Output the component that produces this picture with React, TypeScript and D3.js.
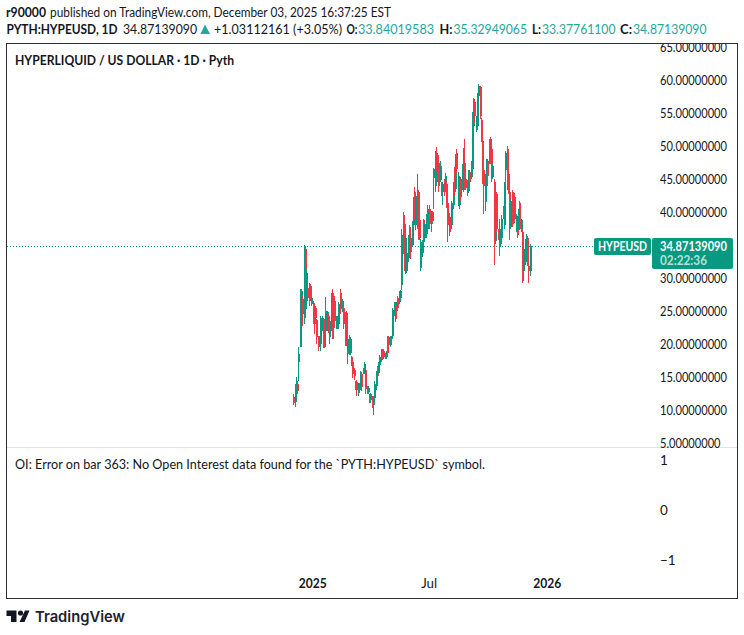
import { useEffect, useRef } from 'react';
import * as d3 from 'd3';

const WIDTH = 744;
const HEIGHT = 635;
const FONT = 'Lato, "Noto Sans", sans-serif';
const UP = '#089981';
const DOWN = '#f23645';
const INK = '#131722';

const firstDay = '2024-11-30';
const lastDay = '2025-12-03';

// one bar every two days or so
const opens = [12.0, 11.2, 12.8, 14.0, 17.2, 19.6, 23.5, 26.8, 24.0, 34.4, 27, 28.5, 29.0, 28.8, 26, 26.2, 24.8, 25.5, 23.6, 21, 19.8, 20, 22.5, 23.5, 23.4, 22, 22.2, 24.2, 21, 22.5, 27.8, 26.2, 26.5, 22.5, 22.8, 23, 27.8, 26.6, 25, 25.5, 24.5, 24.7, 18.5, 21, 18.6, 18, 17.2, 16, 13.4, 14.3, 12.6, 13, 14.2, 15.4, 15.5, 15.8, 16, 13.4, 12.8, 12.2, 11.5, 11.9, 10.8, 11.8, 13.6, 16.4, 15.6, 16.8, 17.6, 19, 18.9, 18.5, 18, 21, 21, 19.8, 20.8, 21.2, 24.6, 26, 25.9, 27, 26.3, 27, 29, 39.5, 38.2, 31, 31, 33, 37.8, 36, 35, 38, 43, 38, 39, 43, 38.8, 31.5, 33.8, 38.8, 36, 37, 40.5, 38.5, 40.5, 38.2, 40, 45.2, 44, 49, 47, 47.4, 44.8, 44.3, 43, 44.7, 43.5, 44.3, 41.3, 37, 39, 38, 41, 46.5, 43.5, 49, 41.5, 41, 45, 44, 44, 47.5, 45, 44.5, 43.2, 46, 45.3, 46.5, 53, 56.7, 52.5, 53, 57.6, 58.9, 54, 50.8, 46.3, 41.5, 44, 47.8, 47.6, 51, 49.5, 45.3, 44.5, 35.6, 42.8, 37.2, 37.4, 35.2, 36, 40.7, 38, 46.3, 49.5, 45.8, 43, 37.8, 43, 42.9, 42.2, 37.2, 38.3, 37.5, 41.3, 37.3, 37, 31, 32.5, 34, 36, 31.8, 31];
const highs = [12.4, 13.9, 15.0, 14.4, 19.6, 28.3, 28.3, 27.3, 35.0, 34.9, 31.4, 28.8, 29.3, 29.1, 27.1, 26.5, 25.3, 25.8, 23.8, 21.2, 21.2, 24.3, 24.3, 23.8, 23.8, 27.1, 25, 24.5, 23.8, 27.8, 28.3, 26.8, 27.3, 24.3, 24.3, 26.3, 28.3, 26.8, 26.8, 25.8, 24.8, 25, 21, 21.4, 20.9, 18.2, 17.4, 16.4, 14.4, 14.6, 14.1, 14.1, 15.9, 15.6, 16.4, 17.2, 16.4, 13.6, 13.6, 12.4, 12.6, 12.1, 12.1, 14.4, 15.9, 16.7, 17.2, 18.4, 19.2, 19.2, 19.2, 18.7, 18.9, 21.2, 21.2, 21.2, 21.2, 25.5, 26.3, 26.3, 26.3, 27.3, 28.1, 28.2, 37.4, 40, 38.7, 36.4, 34.1, 36.5, 38.1, 36.2, 38.7, 42.2, 43.8, 42.7, 45.7, 43.4, 39, 35.9, 35.7, 39, 38.4, 39.7, 41.1, 40.2, 41, 40.2, 40.2, 46.7, 49.2, 49.8, 47.3, 48.7, 47.7, 44.5, 44.5, 45, 45.9, 44.5, 41.6, 39.9, 39.2, 41.7, 44.6, 46.8, 48.8, 49.5, 46, 43.3, 45.3, 47.3, 49.7, 51, 45.3, 44.8, 46.4, 46.3, 47.8, 55.2, 57.2, 57.1, 54.6, 58, 59.4, 59.1, 54.3, 51.1, 46.6, 45.8, 48.1, 48.1, 51.1, 51.4, 49.8, 47.3, 45, 40.9, 43.1, 37.4, 39, 37.2, 39.5, 40.9, 44.6, 49.2, 50, 46.1, 43.4, 42, 43.3, 43.1, 42.5, 39.7, 38.5, 40.5, 41.6, 39, 37.4, 34.7, 35.9, 36.7, 36.4, 32, 35.2];
const lows = [10.75, 10.5, 12.1, 12.4, 14.4, 19.5, 22.8, 22.8, 23.0, 28.6, 25.3, 26.5, 25.8, 26.5, 25.8, 23, 21.5, 23.8, 20, 19, 19.5, 18.9, 22, 19.4, 19.4, 19.5, 22, 21.7, 20, 22, 20.7, 20.7, 22.5, 22.2, 22.2, 22.2, 24.5, 25.3, 24.8, 22.2, 19.7, 19.7, 17, 18.4, 18.3, 16.7, 14.9, 14.6, 13.1, 12.1, 12.1, 12.6, 13.9, 12.9, 15.4, 15.4, 12.4, 12.4, 12.4, 11.1, 11.1, 10.3, 9.2, 11.3, 13, 14.9, 15.4, 16.4, 17.2, 17.7, 17.7, 17.7, 17.7, 18.2, 19.5, 19.6, 20.7, 21, 24.3, 23.3, 25.8, 25, 26, 26.8, 28.2, 33.6, 31.1, 30.6, 30.8, 32.4, 34.4, 32.9, 34.7, 37.4, 38.9, 37.3, 37.4, 35.7, 35.7, 31, 33.2, 35.5, 35.4, 36, 36.7, 37.4, 37.4, 36.9, 38.5, 40.5, 43, 46, 44.5, 43.1, 44.5, 42.4, 41.1, 42.4, 43, 40.6, 35.5, 36.4, 36.9, 37.5, 40.5, 42.5, 43.1, 45.8, 40.9, 40.4, 41.7, 43.3, 43.1, 43.3, 43.3, 42.5, 42.9, 44.3, 45, 45.8, 52.4, 53.4, 52.1, 52.4, 57.4, 54.1, 50.6, 44.3, 39.7, 40.2, 43.5, 44.3, 47.3, 47.3, 44.6, 45, 31.9, 35.2, 36.9, 35.7, 33.4, 34.7, 35.7, 39, 37.4, 43, 43.3, 42.7, 35.7, 37.4, 37.7, 39.7, 38.4, 36.9, 36, 37.2, 37.2, 37, 29.3, 29.6, 31.9, 33.6, 31.8, 29.2, 30.3];
const closes = [11.0, 13.5, 14.0, 12.9, 18.5, 23.2, 28.0, 24.5, 34.5, 29.5, 30.8, 27.0, 27, 27.0, 27, 23.8, 23, 24, 21, 19.8, 21, 24, 24, 19.6, 20, 25, 24.8, 22.3, 23.5, 27.3, 22.5, 23, 23.5, 24, 24.1, 26, 25.5, 25.5, 26.5, 23, 22.5, 20, 20.8, 19, 20.7, 17, 15.4, 15.2, 14.2, 13, 13.9, 14, 15.7, 13.5, 16.2, 17, 13.2, 12.8, 13.4, 11.5, 12.4, 10.8, 11.9, 14, 15.6, 15.2, 17, 18.1, 19, 18.2, 18, 17.9, 18.7, 18.6, 19.8, 21, 21.1, 25.2, 26, 23.8, 26.2, 25.5, 27.8, 28, 36.5, 34.5, 32, 36, 33.8, 36.2, 35, 34, 37.8, 41.7, 40.5, 42.5, 42.6, 36.5, 36, 35.5, 35.5, 36, 38.2, 39.3, 38, 40, 38.2, 40, 38.7, 46.5, 48.5, 46.5, 44.8, 44, 47, 43, 44.3, 43, 45.5, 41.5, 38, 39, 37.5, 41.3, 44.2, 43, 48.4, 46.5, 45.5, 43, 42.3, 47, 49.2, 43.6, 43.6, 43.2, 46.1, 44.6, 47.5, 54.5, 56.8, 54.5, 54.3, 57.5, 59.1, 54.5, 51, 44.8, 44, 44, 47, 45.5, 50.8, 47.6, 45, 47, 36, 40.4, 37.5, 36, 36, 36.8, 39, 39.4, 43.7, 48.9, 44, 43, 41, 41.6, 38.2, 40, 39, 39.4, 36.5, 39.8, 37.5, 38.8, 31.5, 34.4, 35.5, 36, 32, 31, 34.87];

const priceTicks = [65, 60, 55, 50, 45, 40, 35, 30, 25, 20, 15, 10, 5];
const oiTicks = [1, 0, -1];
const timeTicks = [
    { date: '2025-01-01', label: '2025', bold: true, w: 28 },
    { date: '2025-07-01', label: 'Jul', bold: false, w: 16 },
    { date: '2026-01-01', label: '2026', bold: true, w: 28 }
];
const lastPrice = 34.87139090;

const App = () => {
    const ref = useRef<SVGSVGElement | null>(null);

    useEffect(() => {
        const svg: any = d3.select(ref.current);
        svg.selectAll('*').remove();
        svg.attr('font-family', FONT);

        const x = d3.scaleTime()
            .domain([new Date(firstDay), new Date(lastDay)])
            .range([293.3, 529.7]);
        const y = d3.scaleLinear().domain([5, 65]).range([443, 47]);
        const yOi = d3.scaleLinear().domain([-1, 1]).range([560, 460]);

        const step = (+new Date(lastDay) - +new Date(firstDay)) / (opens.length - 1);
        const bars = opens.map((o, i) => ({
            date: new Date(+new Date(firstDay) + i * step),
            o, h: highs[i], l: lows[i], c: closes[i]
        }));

        // the reference font is narrower than Lato, so widths are fitted with textLength
        const label = (txt: string, px: number, py: number, size: number, opt: any = {}) => {
            const t = svg.append('text')
                .attr('x', px)
                .attr('y', py)
                .attr('font-size', size)
                .attr('font-weight', opt.bold ? 700 : 400)
                .attr('fill', opt.fill || INK)
                .attr('text-anchor', opt.anchor || 'start')
                .text(txt);
            if (opt.w) t.attr('textLength', opt.w).attr('lengthAdjust', 'spacingAndGlyphs');
            return t;
        };

        // header
        label('r90000', 6, 17, 13.5, { bold: true, w: 40 });
        label('published on TradingView.com, December 03, 2025 16:37:25 EST', 50, 17, 13.5, { w: 341 });
        label('PYTH:HYPEUSD, 1D', 6.5, 33.5, 13.5, { bold: true, w: 111 });
        label('34.87139090', 123, 33.5, 13.5, { w: 74 });
        svg.append('path').attr('d', 'M200.5 34L205 24.5L210 34Z').attr('fill', '#26a69a');
        label('+1.03112161 (+3.05%)', 214, 33.5, 13.5, { w: 128 });
        const ohlc = [
            ['O:', 346.5, 11, '33.84019583', 358, 76],
            ['H:', 439.5, 13, '35.32949065', 453.5, 73.5],
            ['L:', 532, 9, '33.37761100', 542, 73.5],
            ['C:', 620, 12, '34.87139090', 633, 73.5]
        ];
        ohlc.forEach((d: any) => {
            label(d[0], d[1], 33.5, 13.5, { bold: true, w: d[2] });
            label(d[3], d[4], 33.5, 13.5, { fill: '#26a69a', w: d[5] });
        });

        // frame and pane divider
        svg.append('rect')
            .attr('x', 6.5).attr('y', 43.5).attr('width', 731).attr('height', 555)
            .attr('fill', 'none').attr('stroke', '#2a2e39').attr('stroke-width', 1);
        svg.append('line')
            .attr('x1', 7).attr('x2', 737).attr('y1', 447.5).attr('y2', 447.5)
            .attr('stroke', '#e0e3eb');

        label('HYPERLIQUID / US DOLLAR · 1D · Pyth', 15, 64.5, 13.5, { bold: true, w: 219 });
        label('OI: Error on bar 363: No Open Interest data found for the `PYTH:HYPEUSD` symbol.', 15, 469, 13.5, { w: 470 });

        // price scale, the top label is cut off by the frame
        svg.append('clipPath').attr('id', 'pane')
            .append('rect').attr('x', 7).attr('y', 44).attr('width', 730).attr('height', 554);
        const scale = svg.append('g').attr('clip-path', 'url(#pane)');
        scale.selectAll('text')
            .data(priceTicks)
            .enter().append('text')
            .attr('x', 660)
            .attr('y', (d: number) => y(d) + 4.5)
            .attr('font-size', 13.5)
            .attr('fill', INK)
            .attr('textLength', (d: number) => d < 10 ? 60.5 : 67)
            .attr('lengthAdjust', 'spacingAndGlyphs')
            .text((d: number) => d3.format('.8f')(d));

        oiTicks.forEach((d) => {
            label(d3.format('d')(d).replace('-', '−'), 660, yOi(d) + 4.5, 13.5);
        });

        timeTicks.forEach((d) => {
            label(d.label, x(new Date(d.date)) - 1, 588, 13.5, { anchor: 'middle', bold: d.bold, w: d.w });
        });

        // last price line
        svg.append('line')
            .attr('x1', 7).attr('x2', 594)
            .attr('y1', Math.round(y(lastPrice)) + 0.5).attr('y2', Math.round(y(lastPrice)) + 0.5)
            .attr('stroke', UP).attr('stroke-width', 1).attr('stroke-dasharray', '1 2')
            .attr('shape-rendering', 'crispEdges');

        // candles
        const candle = svg.append('g')
            .attr('shape-rendering', 'crispEdges')
            .selectAll('g')
            .data(bars)
            .enter().append('g')
            .attr('fill', (d: any) => d.c >= d.o ? UP : DOWN);
        candle.append('rect')
            .attr('x', (d: any) => Math.round(x(d.date)))
            .attr('width', 1)
            .attr('y', (d: any) => y(d.h))
            .attr('height', (d: any) => y(d.l) - y(d.h));
        candle.append('rect')
            .attr('x', (d: any) => Math.round(x(d.date)) - 0.5)
            .attr('width', 2)
            .attr('y', (d: any) => y(Math.max(d.o, d.c)))
            .attr('height', (d: any) => Math.max(1, Math.abs(y(d.o) - y(d.c))));

        // last price tags
        svg.append('rect').attr('x', 594).attr('y', 238).attr('width', 57).attr('height', 17).attr('rx', 2).attr('fill', UP);
        label('HYPEUSD', 598, 251, 13.5, { fill: '#fff', bold: true, w: 49 });
        svg.append('rect').attr('x', 652).attr('y', 238).attr('width', 81).attr('height', 31).attr('rx', 2).attr('fill', UP);
        label('34.87139090', 660, 251, 13.5, { fill: '#fff', bold: true, w: 67 });
        label('02:22:36', 660, 265, 13.5, { fill: '#b5e0d8', bold: true, w: 47 });

        // logo
        svg.append('path')
            .attr('d', 'M6.5 610.5H16.5V622H11V616H6.5Z M19.5 622L25 610.5H29.5L24.5 622Z')
            .attr('fill', INK);
        svg.append('circle').attr('cx', 20.5).attr('cy', 613).attr('r', 2.6).attr('fill', INK);
        label('TradingView', 35, 622, 15, { fill: '#1e222d', w: 90 }).attr('font-family', 'Inter, sans-serif').attr('font-weight', 600);
    }, []);

    return (
        <svg
            ref={ref}
            width={WIDTH}
            height={HEIGHT}
            style={{ position: 'absolute', left: 0, top: 0, background: '#fff' }}
        />
    );
};

export default App;
